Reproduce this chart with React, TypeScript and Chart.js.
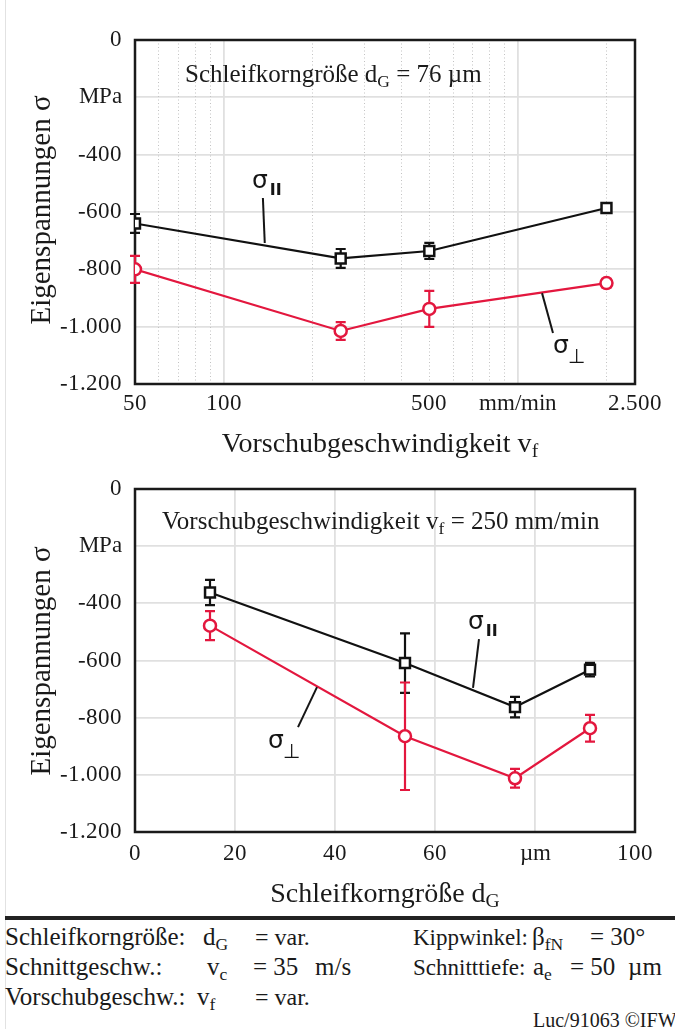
import React, { useEffect, useRef } from 'react';
import { Chart, registerables } from 'chart.js';

Chart.register(...registerables);

// ---------- data: top chart (grain size dG = 76 µm, variable feed rate) ----------
const feedRates = [50, 250, 500, 2000];
const topParallel = [-640, -762, -736, -586];
const topParallelErr = [33, 33, 28, 17];
const topPerp = [-800, -1015, -938, -848];
const topPerpErr = [47, 31, 63, 15];

// ---------- data: bottom chart (vf = 250 mm/min, variable grain size) ----------
const grainSizes = [15, 54, 76, 91];
const botParallel = [-362, -609, -763, -632];
const botParallelErr = [44, 104, 36, 24];
const botPerp = [-478, -865, -1012, -837];
const botPerpErr = [51, 188, 33, 47];

// ---------- ticks ----------
const yTicks = [0, -200, -400, -600, -800, -1000, -1200];
const yTickLabels = ['0', 'MPa', '-400', '-600', '-800', '-1.000', '-1.200'];
const topXTicks = [50, 100, 500, 1000, 2500];
const topXTickLabels = ['50', '100', '500', 'mm/min', '2.500'];
const topXMajorGrid = [100, 1000];
const topXMinorGrid = [60, 70, 80, 90, 200, 300, 400, 500, 600, 700, 800, 900, 2000];
const botXTicks = [0, 20, 40, 60, 80, 100];
const botXTickLabels = ['0', '20', '40', '60', 'µm', '100'];
const botXMajorGrid = [20, 40, 60, 80];

const RED = '#e3173e';
const BLACK = '#111111';
const GRID = '#e0e0e0';
const SERIF = '"Liberation Serif", "Times New Roman", serif';
const TICK_FAMILY = 'IFWSerif, "Liberation Serif", "DejaVu Serif", serif';

Chart.defaults.font.family = TICK_FAMILY;

let fontReady: Promise<any> | null = null;
function ensureFonts(): Promise<any> {
  if (fontReady) return fontReady;
  try {
    const FF: any = (window as any).FontFace;
    const ff = new FF(
      'IFWSerif',
      'local("Liberation Serif"), local("LiberationSerif"), local("LiberationSerif-Regular"), local("Liberation Serif Regular")'
    );
    (document as any).fonts.add(ff);
    fontReady = ff.load().catch(() => null);
  } catch (e) {
    fontReady = Promise.resolve(null);
  }
  return fontReady as Promise<any>;
}

// annotation leader lines (data coordinates) and label offsets (px from anchor end)
const topAnnotations = [
  { x1: 136, y1: -551, x2: 138, y2: -708, anchor: 1, dx: -11, dy: -10, sub: 'II' },
  { x1: 1208, y1: -883, x2: 1316, y2: -1022, anchor: 2, dx: 0, dy: 20, sub: '⊥' },
];
const botAnnotations = [
  { x1: 68.8, y1: -525, x2: 67.6, y2: -696, anchor: 1, dx: -11, dy: -10, sub: 'II' },
  { x1: 36.4, y1: -693, x2: 32.6, y2: -833, anchor: 2, dx: -30, dy: 21, sub: '⊥' },
];

const decorPlugin = {
  id: 'decor',
  beforeDatasetsDraw(chart: any, _args: any, opts: any) {
    const { ctx, chartArea: a } = chart;
    const x = chart.scales.x;
    const y = chart.scales.y;
    ctx.save();
    ctx.strokeStyle = '#c2c2c2';
    ctx.lineWidth = 1;
    ctx.setLineDash([1, 2.5]);
    for (const v of opts.minorGrid || []) {
      const px = Math.round(x.getPixelForValue(v)) + 0.5;
      ctx.beginPath();
      ctx.moveTo(px, a.top);
      ctx.lineTo(px, a.bottom);
      ctx.stroke();
    }
    ctx.setLineDash([]);
    ctx.strokeStyle = '#1a1a1a';
    ctx.lineWidth = 2.5;
    ctx.strokeRect(a.left, a.top, a.right - a.left, a.bottom - a.top);
    chart.data.datasets.forEach((ds: any, i: number) => {
      const meta = chart.getDatasetMeta(i);
      const errs = opts.errors[i];
      ctx.strokeStyle = ds.borderColor;
      ctx.lineWidth = 2.2;
      meta.data.forEach((pt: any, j: number) => {
        const v = ds.data[j].y;
        const e = errs[j];
        const t = y.getPixelForValue(v + e);
        const b = y.getPixelForValue(v - e);
        ctx.beginPath();
        ctx.moveTo(pt.x, t);
        ctx.lineTo(pt.x, b);
        ctx.moveTo(pt.x - 5, t);
        ctx.lineTo(pt.x + 5, t);
        ctx.moveTo(pt.x - 5, b);
        ctx.lineTo(pt.x + 5, b);
        ctx.stroke();
      });
    });
    ctx.restore();
  },
  afterDatasetsDraw(chart: any, _args: any, opts: any) {
    const { ctx } = chart;
    const x = chart.scales.x;
    const y = chart.scales.y;
    ctx.save();
    for (const an of opts.annotations || []) {
      const p1 = [x.getPixelForValue(an.x1), y.getPixelForValue(an.y1)];
      const p2 = [x.getPixelForValue(an.x2), y.getPixelForValue(an.y2)];
      ctx.strokeStyle = '#151515';
      ctx.lineWidth = 2;
      ctx.beginPath();
      ctx.moveTo(p1[0], p1[1]);
      ctx.lineTo(p2[0], p2[1]);
      ctx.stroke();
      const base = an.anchor === 1 ? p1 : p2;
      const lx = base[0] + an.dx;
      const ly = base[1] + an.dy;
      ctx.fillStyle = '#151515';
      ctx.textBaseline = 'alphabetic';
      ctx.textAlign = 'left';
      ctx.font = '25px "DejaVu Sans", sans-serif';
      ctx.fillText('σ', lx, ly);
      const w = ctx.measureText('σ').width;
      if (an.sub === 'II') {
        ctx.font = 'bold 16px "DejaVu Sans", sans-serif';
        ctx.fillText(an.sub, lx + w + 2, ly + 7);
      } else {
        ctx.font = '20px "DejaVu Sans", sans-serif';
        ctx.fillText(an.sub, lx + w - 1, ly + 10);
      }
    }
    ctx.restore();
  },
};

function makeConfig(p: any): any {
  const allX = Array.from(new Set([...p.xTicks, ...p.majorGrid, ...p.minorGrid])).sort((a: any, b: any) => a - b);
  const tickFont = { family: TICK_FAMILY, size: 23 };
  return {
    type: 'line',
    data: {
      datasets: [
        {
          data: p.xs.map((v: number, i: number) => ({ x: v, y: p.par[i] })),
          borderColor: BLACK,
          borderWidth: 2.2,
          pointStyle: 'rect',
          pointRadius: 7,
          pointBackgroundColor: '#ffffff',
          pointBorderColor: BLACK,
          pointBorderWidth: 2.5,
          tension: 0,
        },
        {
          data: p.xs.map((v: number, i: number) => ({ x: v, y: p.perp[i] })),
          borderColor: RED,
          borderWidth: 2.2,
          pointStyle: 'circle',
          pointRadius: 6,
          pointBackgroundColor: '#ffffff',
          pointBorderColor: RED,
          pointBorderWidth: 2.5,
          tension: 0,
        },
      ],
    },
    options: {
      responsive: false,
      animation: false,
      devicePixelRatio: 1,
      layout: { padding: { left: 0, right: 40, top: p.padTop, bottom: 0 } },
      plugins: {
        legend: { display: false },
        tooltip: { enabled: false },
        decor: { minorGrid: p.minorGrid, errors: [p.parErr, p.perpErr], annotations: p.annotations },
      },
      scales: {
        x: {
          type: p.xType,
          min: p.xMin,
          max: p.xMax,
          afterBuildTicks: (s: any) => {
            s.ticks = allX.map((v) => ({ value: v }));
          },
          afterFit: (s: any) => {
            s.height = p.xAxisH;
          },
          grid: {
            drawTicks: false,
            lineWidth: 1.8,
            color: (c: any) => (c.tick && p.majorGrid.includes(c.tick.value) ? GRID : 'rgba(0,0,0,0)'),
          },
          border: { display: false },
          ticks: {
            autoSkip: false,
            maxRotation: 0,
            minRotation: 0,
            padding: p.xPad,
            font: tickFont,
            color: '#1a1a1a',
            callback: (v: any) => {
              const i = p.xTicks.indexOf(Number(v));
              return i >= 0 ? p.xLabels[i] : '';
            },
          },
        },
        y: {
          type: 'linear',
          min: -1200,
          max: 0,
          afterBuildTicks: (s: any) => {
            s.ticks = yTicks.map((v) => ({ value: v }));
          },
          afterFit: (s: any) => {
            s.width = 135;
          },
          grid: { drawTicks: false, lineWidth: 1.8, color: GRID },
          border: { display: false },
          ticks: {
            padding: 13,
            font: tickFont,
            color: '#1a1a1a',
            callback: (v: any) => {
              const i = yTicks.indexOf(Number(v));
              return i >= 0 ? yTickLabels[i] : '';
            },
          },
        },
      },
    },
    plugins: [decorPlugin],
  };
}

function ChartCanvas({ top, height, config }: { top: number; height: number; config: any }) {
  const ref = useRef<HTMLCanvasElement | null>(null);
  useEffect(() => {
    if (!ref.current) return;
    const chart = new Chart(ref.current, config);
    let alive = true;
    ensureFonts().then(() => {
      if (alive) chart.update();
    });
    return () => {
      alive = false;
      chart.destroy();
    };
  }, []);
  return (
    <canvas
      ref={ref}
      width={675}
      height={height}
      style={{ position: 'absolute', left: 0, top, width: 675, height }}
    />
  );
}

function T({ x, base, size, children, center }: any) {
  return (
    <div
      style={{
        position: 'absolute',
        left: x,
        top: base - size * 0.8375,
        fontSize: size,
        lineHeight: 1,
        whiteSpace: 'nowrap',
        transform: center ? 'translateX(-50%)' : undefined,
      }}
    >
      {children}
    </div>
  );
}

function Sub({ children }: any) {
  return <span style={{ fontSize: '0.7em', verticalAlign: '-0.28em' }}>{children}</span>;
}

function YTitle({ cx, cy }: { cx: number; cy: number }) {
  return (
    <div
      style={{
        position: 'absolute',
        left: cx,
        top: cy,
        fontSize: 29,
        lineHeight: 1,
        whiteSpace: 'nowrap',
        transform: 'translate(-50%, -50%) rotate(-90deg)',
      }}
    >
      Eigenspannungen σ
    </div>
  );
}

const topConfig = makeConfig({
  xType: 'logarithmic',
  xMin: 50,
  xMax: 2500,
  xTicks: topXTicks,
  xLabels: topXTickLabels,
  majorGrid: topXMajorGrid,
  minorGrid: topXMinorGrid,
  xs: feedRates,
  par: topParallel,
  parErr: topParallelErr,
  perp: topPerp,
  perpErr: topPerpErr,
  padTop: 40,
  xAxisH: 76,
  xPad: 6,
  annotations: topAnnotations,
});

const botConfig = makeConfig({
  xType: 'linear',
  xMin: 0,
  xMax: 100,
  xTicks: botXTicks,
  xLabels: botXTickLabels,
  majorGrid: botXMajorGrid,
  minorGrid: [],
  xs: grainSizes,
  par: botParallel,
  parErr: botParallelErr,
  perp: botPerp,
  perpErr: botPerpErr,
  padTop: 29,
  xAxisH: 78,
  xPad: 8,
  annotations: botAnnotations,
});

export default function App() {
  return (
    <div
      style={{
        position: 'absolute',
        left: 0,
        top: 0,
        width: 675,
        height: 1029,
        overflow: 'hidden',
        background: '#ffffff',
        fontFamily: SERIF,
        color: '#1a1a1a',
      }}
    >
      <div style={{ position: 'absolute', left: 5, top: 0, width: 1, height: 1029, background: '#e2e2e2' }} />
      <ChartCanvas top={0} height={460} config={topConfig} />
      <ChartCanvas top={460} height={450} config={botConfig} />

      <T x={185} base={82} size={25}>
        Schleifkorngröße d<Sub>G</Sub> = 76 µm
      </T>
      <T x={162} base={529} size={25}>
        Vorschubgeschwindigkeit v<Sub>f</Sub> = 250 mm/min
      </T>

      <YTitle cx={40} cy={210} />
      <YTitle cx={40} cy={661} />
      <T x={380} base={452} size={28} center>
        Vorschubgeschwindigkeit v<Sub>f</Sub>
      </T>
      <T x={385} base={902} size={28} center>
        Schleifkorngröße d<Sub>G</Sub>
      </T>

      <div style={{ position: 'absolute', left: 5, top: 916, width: 670, height: 4, background: '#222' }} />

      <T x={5} base={945} size={25}>Schleifkorngröße:</T>
      <T x={203} base={945} size={25}>d<Sub>G</Sub></T>
      <T x={255} base={945} size={24}>= var.</T>
      <T x={413} base={945} size={23}>Kippwinkel:</T>
      <T x={532} base={945} size={25}>β<Sub>fN</Sub></T>
      <T x={590} base={945} size={25}>= 30°</T>

      <T x={5} base={975} size={25}>Schnittgeschw.:</T>
      <T x={207} base={975} size={25}>v<Sub>c</Sub></T>
      <T x={253} base={975} size={25}>= 35</T>
      <T x={315} base={975} size={25}>m/s</T>
      <T x={413} base={975} size={23}>Schnitttiefe:</T>
      <T x={533} base={975} size={25}>a<Sub>e</Sub></T>
      <T x={570} base={975} size={25}>= 50</T>
      <T x={628} base={975} size={25}>µm</T>

      <T x={5} base={1005} size={25}>Vorschubgeschw.:</T>
      <T x={197} base={1005} size={25}>v<Sub>f</Sub></T>
      <T x={255} base={1005} size={24}>= var.</T>

      <T x={533} base={1027} size={20}>Luc/91063 ©IFW</T>
    </div>
  );
}
